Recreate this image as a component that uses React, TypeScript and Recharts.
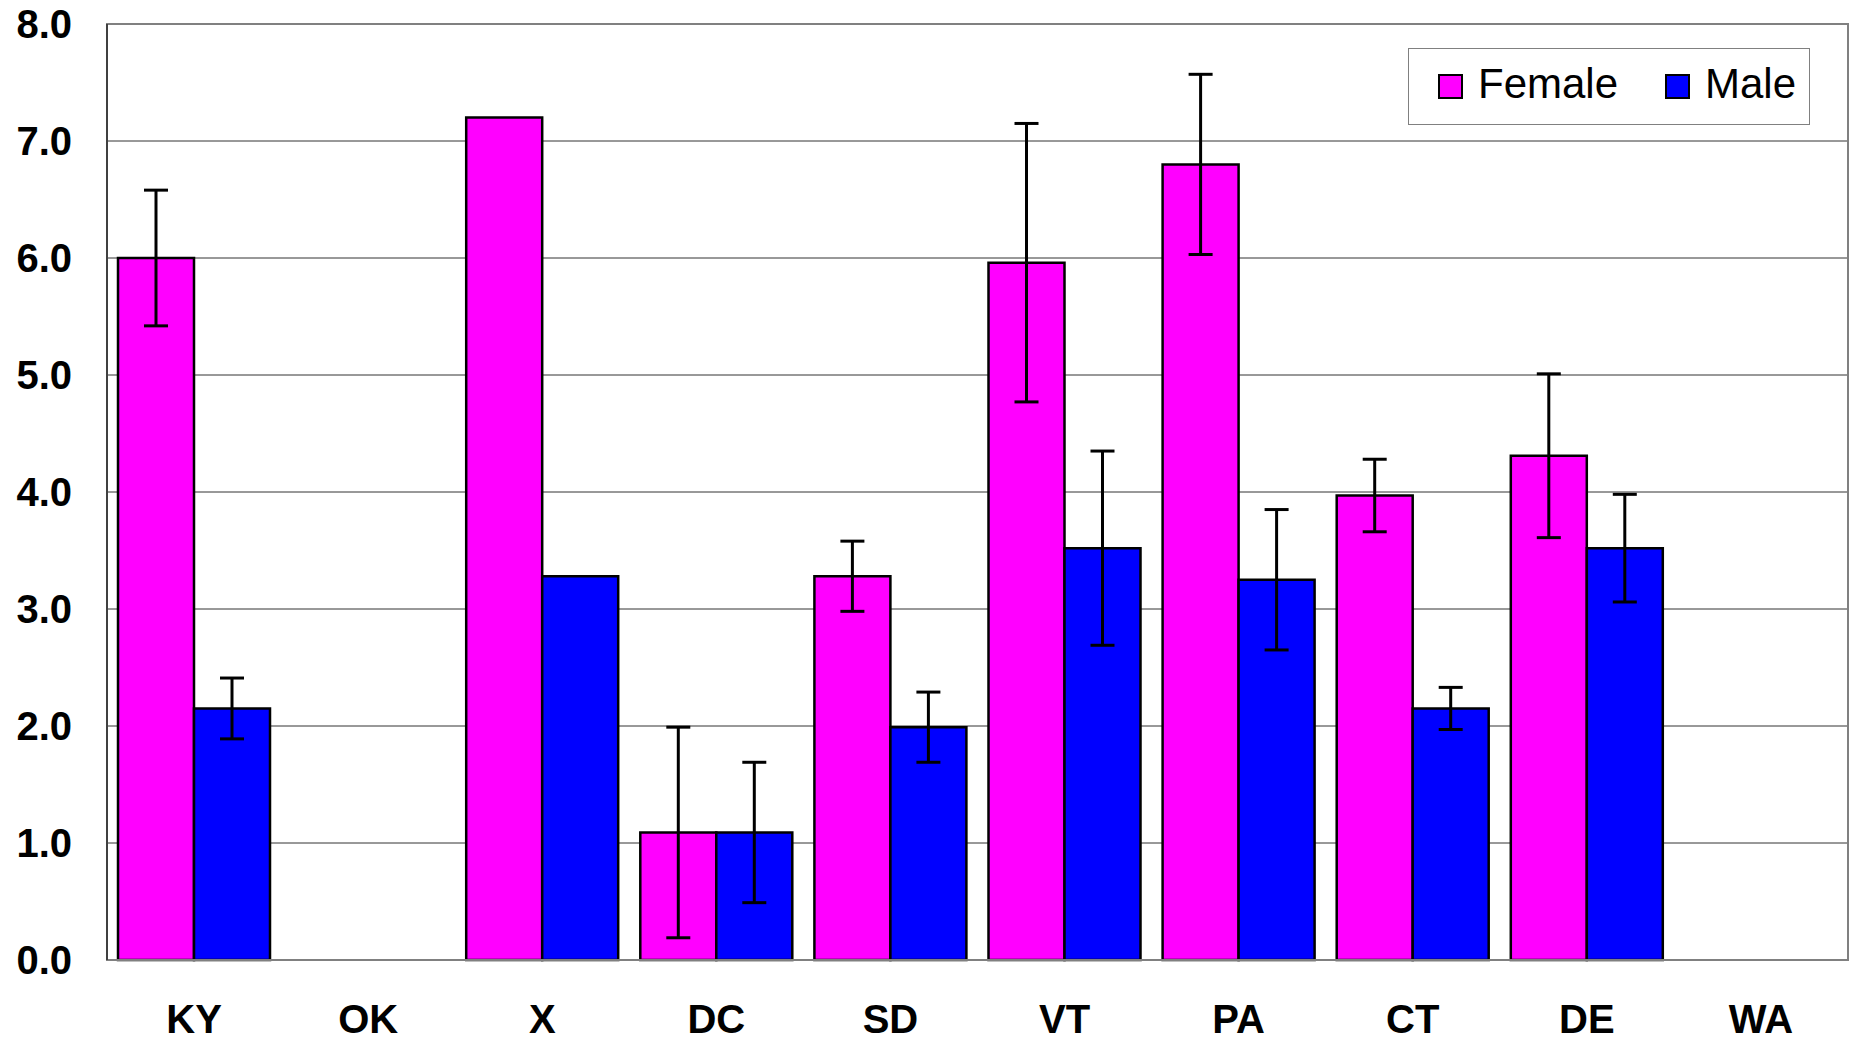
import {
  Bar,
  BarChart,
  CartesianGrid,
  ErrorBar,
  ReferenceArea,
  XAxis,
  YAxis
} from "recharts";

const states = ["KY", "OK", "X", "DC", "SD", "VT", "PA", "CT", "DE", "WA"];
const femaleValues = [6.0, 0, 7.2, 1.09, 3.28, 5.96, 6.8, 3.97, 4.31, 0];
const femaleErrors = [0.58, 0, 0, 0.9, 0.3, 1.19, 0.77, 0.31, 0.7, 0];
const maleValues = [2.15, 0, 3.28, 1.09, 1.99, 3.52, 3.25, 2.15, 3.52, 0];
const maleErrors = [0.26, 0, 0, 0.6, 0.3, 0.83, 0.6, 0.18, 0.46, 0];
const yTicks = [0, 1, 2, 3, 4, 5, 6, 7, 8];

const data = states.map((state, i) => ({
  state,
  female: femaleValues[i],
  femaleErr: femaleErrors[i],
  male: maleValues[i],
  maleErr: maleErrors[i]
}));

const FONT = "'Liberation Sans', Arial, sans-serif";

const LegendBox = () => (
  <div
    style={{
      position: "absolute",
      left: 1408,
      top: 48,
      width: 400,
      height: 75,
      border: "1px solid #808080",
      background: "#fff",
      fontFamily: FONT,
      fontSize: 42,
      color: "#000"
    }}
  >
    {[
      { label: "Female", color: "#ff00ff", left: 29, textLeft: 69 },
      { label: "Male", color: "#0000ff", left: 256, textLeft: 296 }
    ].map((item) => (
      <div key={item.label}>
        <div
          style={{
            position: "absolute",
            left: item.left,
            top: 25,
            width: 21,
            height: 21,
            background: item.color,
            border: "2.5px solid #000"
          }}
        />
        <div
          style={{
            position: "absolute",
            left: item.textLeft,
            top: 12,
            lineHeight: "46px"
          }}
        >
          {item.label}
        </div>
      </div>
    ))}
  </div>
);

export default function App() {
  return (
    <div
      style={{
        position: "absolute",
        left: 0,
        top: 0,
        width: 1849,
        height: 1045,
        background: "#fff"
      }}
    >
      <BarChart
        width={1849}
        height={1045}
        data={data}
        margin={{ top: 24, right: 1, bottom: 0, left: 0 }}
        barCategoryGap={11}
        barGap={0}
      >
        <CartesianGrid vertical={false} stroke="#333" strokeWidth={1} />
        <ReferenceArea
          y1={0}
          y2={8}
          fill="none"
          stroke="#808080"
          strokeWidth={2}
        />
        <XAxis
          dataKey="state"
          height={85}
          tickLine={false}
          tickSize={0}
          tickMargin={45}
          axisLine={{ stroke: "#808080", strokeWidth: 2 }}
          interval={0}
          tick={{
            fill: "#000",
            fontFamily: FONT,
            fontWeight: "bold",
            fontSize: 40
          }}
        />
        <YAxis
          width={107}
          domain={[0, 8]}
          ticks={yTicks}
          tickFormatter={(v: number) => v.toFixed(1)}
          tickLine={false}
          tickSize={0}
          tickMargin={35}
          axisLine={{ stroke: "#404040", strokeWidth: 2 }}
          tick={{
            fill: "#000",
            fontFamily: FONT,
            fontWeight: "bold",
            fontSize: 40
          }}
        />
        <Bar
          dataKey="female"
          fill="#ff00ff"
          stroke="#000"
          strokeWidth={2.5}
          isAnimationActive={false}
        >
          <ErrorBar
            dataKey="femaleErr"
            width={12}
            stroke="#000"
            strokeWidth={3}
            isAnimationActive={false}
          />
        </Bar>
        <Bar
          dataKey="male"
          fill="#0000ff"
          stroke="#000"
          strokeWidth={2.5}
          isAnimationActive={false}
        >
          <ErrorBar
            dataKey="maleErr"
            width={12}
            stroke="#000"
            strokeWidth={3}
            isAnimationActive={false}
          />
        </Bar>
      </BarChart>
      <LegendBox />
    </div>
  );
}
